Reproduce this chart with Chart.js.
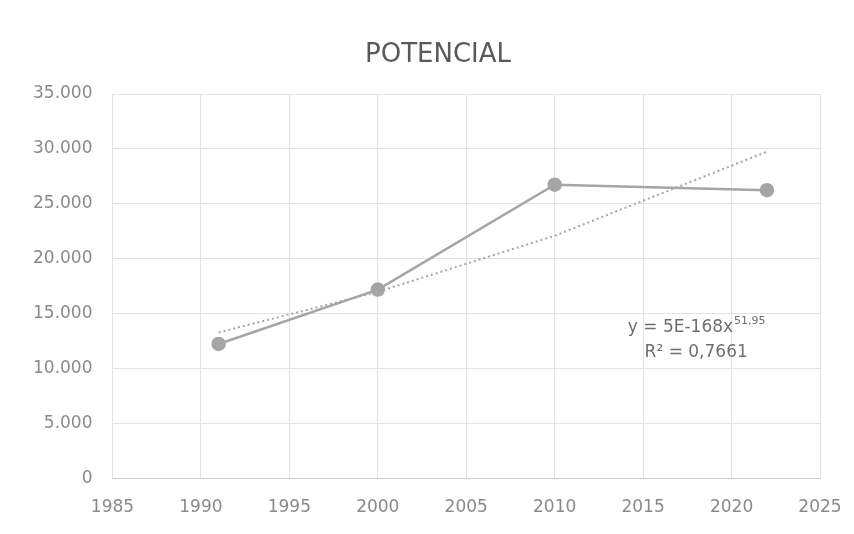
<!DOCTYPE html>
<html>
<head>
<meta charset="utf-8">
<title>POTENCIAL</title>
<script src="https://cdn.jsdelivr.net/npm/chart.js@4.4.1/dist/chart.umd.min.js"></script>
<style>
    html, body { margin: 0; padding: 0; background: #ffffff; }
    #wrap { width: 854px; height: 534px; position: relative; }
</style>
</head>
<body>
<div id="wrap"><canvas id="chart" width="854" height="534"></canvas></div>
<script>
/* ------------------------------- Data -------------------------------*/

const YEARS = [1991, 2000, 2010, 2022];
const VALUES = [12250, 17200, 26750, 26250];
const TREND = [13300, 17000, 22100, 29750];          // línea de tendencia potencial
const X_TICKS = [1985, 1990, 1995, 2000, 2005, 2010, 2015, 2020, 2025];
const Y_TICKS = [0, 5000, 10000, 15000, 20000, 25000, 30000, 35000];
const TITLE = "POTENCIAL";
const EQUATION = ["y = 5E-168x", "51,95"];
const R2_TEXT = "R² = 0,7661";

const FONT = "'DejaVu Sans', 'Liberation Sans', sans-serif";
const GREY_TEXT = "#8a8a8a";
const LINE_COLOR = "#a5a5a5";

function toPoints(xs, ys) {
    var pts = [];
    for (let i = 0; i < xs.length; i++) pts.push({ x: xs[i], y: ys[i] });
    return pts;
}

function formatThousands(value) {
    return String(value).replace(/\B(?=(\d{3})+(?!\d))/g, ".");
}

/* ----------------------- Title + trend label ----------------------*/

const chartTexts = {
    id: 'chartTexts',
    afterDatasetsDraw(chart) {
        const ctx = chart.ctx;
        ctx.save();
        ctx.textBaseline = "middle";

        // título, un poco a la derecha del centro del lienzo
        ctx.fillStyle = "#595959";
        ctx.font = "26px " + FONT;
        ctx.textAlign = "center";
        ctx.fillText(TITLE, chart.width / 2 + 11, 55);

        // ecuación y R² de la tendencia
        const x = chart.scales.x.getPixelForValue(2018.0);
        const y1 = chart.scales.y.getPixelForValue(13700);
        const y2 = chart.scales.y.getPixelForValue(11500);
        ctx.fillStyle = "#6f6f6f";

        ctx.font = "17px " + FONT;
        var w1 = ctx.measureText(EQUATION[0]).width;
        ctx.font = "11px " + FONT;
        var w2 = ctx.measureText(EQUATION[1]).width;
        var start = x - (w1 + w2) / 2;

        ctx.font = "17px " + FONT;
        ctx.textAlign = "left";
        ctx.fillText(EQUATION[0], start, y1);
        ctx.font = "11px " + FONT;
        ctx.fillText(EQUATION[1], start + w1 + 1, y1 - 7);

        ctx.font = "17px " + FONT;
        ctx.textAlign = "center";
        ctx.fillText(R2_TEXT, x, y2);
        ctx.restore();
    }
};

/* ------------------------------- Chart -------------------------------*/

new Chart(document.getElementById('chart').getContext('2d'), {
    type: 'scatter',
    data: {
        datasets: [{
            data: toPoints(YEARS, VALUES),
            showLine: true,
            borderColor: LINE_COLOR,
            backgroundColor: LINE_COLOR,
            borderWidth: 2.5,
            pointRadius: 6,
            pointHoverRadius: 6,
            order: 1
        }, {
            data: toPoints(YEARS, TREND),
            showLine: true,
            borderColor: LINE_COLOR,
            borderWidth: 2,
            borderDash: [2, 3],
            pointRadius: 0,
            order: 2
        }]
    },
    options: {
        responsive: false,
        animation: false,
        layout: { padding: { left: 13, right: 34, top: 94, bottom: -3 } },
        plugins: {
            legend: { display: false },
            tooltip: { enabled: false },
            title: { display: false }
        },
        scales: {
            x: {
                type: 'linear',
                min: 1985,
                max: 2025,
                afterBuildTicks: (axis) => { axis.ticks = X_TICKS.map(v => ({ value: v })); },
                afterFit: (axis) => { axis.paddingRight = 0; axis.paddingLeft = 0; },
                ticks: {
                    color: GREY_TEXT,
                    font: { family: FONT, size: 17 },
                    padding: 19,
                    maxRotation: 0,
                    callback: (v) => String(v)
                },
                grid: { color: '#e3e3e3', drawTicks: false },
                border: { color: '#d0d0d0' }
            },
            y: {
                min: 0,
                max: 35000,
                afterBuildTicks: (axis) => { axis.ticks = Y_TICKS.map(v => ({ value: v })); },
                ticks: {
                    color: GREY_TEXT,
                    font: { family: FONT, size: 17 },
                    padding: 20,
                    callback: (v) => formatThousands(v)
                },
                grid: { color: '#e3e3e3', drawTicks: false },
                border: { display: false }
            }
        }
    },
    plugins: [chartTexts]
});
</script>
</body>
</html>
